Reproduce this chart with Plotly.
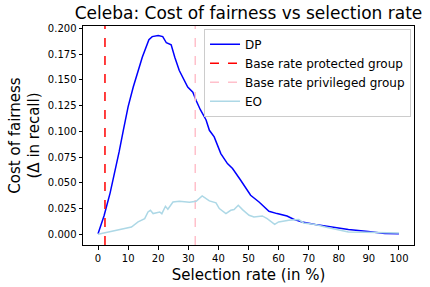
import plotly.graph_objects as go

# ---- data ----
dp_x = [0, 2, 4, 6, 7, 8.4, 10, 11.7, 13.9, 14.7, 16.9, 18, 20, 21.5, 22.7, 24.3, 25.5, 27, 29.8, 31.5, 32.6, 34, 35.9, 37, 38.6, 40.8, 43, 44.7, 47.4, 50.7, 53.5, 56.8, 59.5, 62.8, 65, 67.8, 72.2, 78.8, 83.2, 89.8, 95.3, 100]
dp_y = [0.0006, 0.018, 0.040, 0.065, 0.080, 0.101, 0.124, 0.143, 0.166, 0.172, 0.189, 0.192, 0.193, 0.192, 0.186, 0.184, 0.172, 0.159, 0.143, 0.138, 0.130, 0.121, 0.111, 0.101, 0.0946, 0.0784, 0.0687, 0.0639, 0.0525, 0.0379, 0.0314, 0.0224, 0.0201, 0.0178, 0.0146, 0.012, 0.0094, 0.0065, 0.0046, 0.0026, 0.0007, 0.0005]

eo_x = [0, 4, 8.4, 11.1, 13.3, 15.5, 16.6, 17.4, 18.3, 20.5, 21.2, 22.4, 23.2, 24.9, 27, 30.4, 32.6, 34.6, 37, 39.2, 40.3, 42.5, 44.1, 45.2, 46.6, 48, 50.2, 51.8, 54.6, 56.2, 58.7, 60, 63.4, 66.7, 68.3, 72.2, 75.5, 78.8, 83.2, 88.7, 94.2, 100]
eo_y = [0.0, 0.0023, 0.0055, 0.0071, 0.012, 0.0152, 0.0217, 0.0233, 0.0201, 0.0217, 0.020, 0.0272, 0.0243, 0.0314, 0.032, 0.0311, 0.032, 0.0373, 0.0324, 0.0305, 0.025, 0.0201, 0.0233, 0.024, 0.0282, 0.024, 0.0185, 0.0168, 0.0178, 0.0152, 0.0097, 0.012, 0.0136, 0.0143, 0.011, 0.0094, 0.0071, 0.0049, 0.0023, 0.002, 0.0019, 0.0013]

base_rate_protected = 2.3
base_rate_privileged = 32.3

x_ticks = list(range(0, 101, 10))
y_ticks = [0.0, 0.025, 0.05, 0.075, 0.1, 0.125, 0.15, 0.175, 0.2]

x_range = [-5, 105]
y_range = [-0.0104, 0.2023]

FONT = "DejaVu Sans"

fig = go.Figure()
fig.add_trace(go.Scatter(x=dp_x, y=dp_y, mode="lines", name="DP",
                         line=dict(color="#0000ff", width=1.5)))
fig.add_trace(go.Scatter(x=[base_rate_protected, base_rate_protected], y=y_range, mode="lines",
                         name="Base rate protected group",
                         line=dict(color="#ff0000", width=1.5, dash="dash")))
fig.add_trace(go.Scatter(x=[base_rate_privileged, base_rate_privileged], y=y_range, mode="lines",
                         name="Base rate privileged group",
                         line=dict(color="#ffc0cb", width=1.5, dash="dash")))
fig.add_trace(go.Scatter(x=eo_x, y=eo_y, mode="lines", name="EO",
                         line=dict(color="#add8e6", width=1.5)))

axis_common = dict(showline=True, linecolor="black", linewidth=1, mirror=True,
                   ticks="outside", ticklen=3.5, tickwidth=1, tickcolor="black",
                   showgrid=False, zeroline=False, automargin=False,
                   tickfont=dict(family=FONT, size=10, color="black"))

fig.update_xaxes(range=x_range, tickvals=x_ticks,
                 title=dict(text="Selection rate (in %)", font=dict(family=FONT, size=15, color="black"), standoff=6),
                 **axis_common)
fig.update_yaxes(range=y_range, tickvals=y_ticks, tickformat=".3f",
                 title=dict(text="Cost of fairness<br>(Δ in recall)", font=dict(family=FONT, size=15, color="black"), standoff=4),
                 **axis_common)

fig.update_layout(
    width=430, height=287,
    margin=dict(l=83, r=16, t=26, b=42, autoexpand=False),
    paper_bgcolor="white", plot_bgcolor="white",
    font=dict(family=FONT, color="black"),
    title=dict(text="Celeba: Cost of fairness vs selection rate", x=0.5, xref="paper",
               y=1 - 13 / 287, yref="container", yanchor="middle",
               font=dict(family=FONT, size=17, color="black")),
    showlegend=True,
    legend=dict(x=0.991, y=0.987, xanchor="right", yanchor="top",
                bgcolor="rgba(255,255,255,0.8)", bordercolor="#cccccc", borderwidth=1,
                font=dict(family=FONT, size=12, color="black"), itemwidth=30,
                tracegroupgap=0),
)

fig.write_html("out.html", config={"displayModeBar": False},
               post_script="document.body.style.margin='0';")
